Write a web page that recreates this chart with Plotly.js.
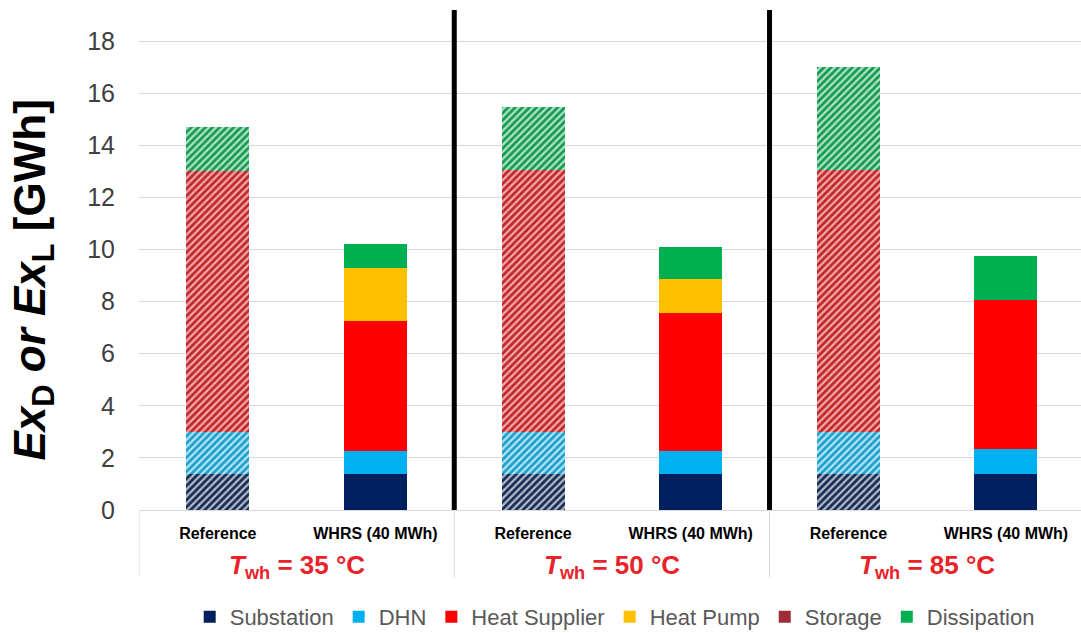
<!DOCTYPE html>
<html>
<head>
<meta charset="utf-8">
<script src="https://cdn.plot.ly/plotly-3.0.1.min.js"></script>
<style>html,body{margin:0;padding:0;background:#fff;overflow:hidden;}</style>
</head>
<body>
<div id="chart" style="width:1081px;height:633px;"></div>
<script>
// ---- data ----
var barLabels = ["Reference", "WHRS (40 MWh)", "Reference", "WHRS (40 MWh)", "Reference", "WHRS (40 MWh)"];
var isReference = [true, false, true, false, true, false];
var groupLabels = ["35", "50", "85"];
var substation   = [1.4, 1.4, 1.4, 1.4, 1.4, 1.4];
var dhn          = [1.6, 0.85, 1.6, 0.85, 1.6, 0.95];
var heatSupplier = [10.0, 5.0, 10.05, 5.3, 10.05, 5.7];
var heatPump     = [0, 2.05, 0, 1.3, 0, 0];
var storage      = [0, 0, 0, 0, 0, 0];
var dissipation  = [1.7, 0.9, 2.4, 1.25, 3.95, 1.7];
var yTicks = [0, 2, 4, 6, 8, 10, 12, 14, 16, 18];

var seriesNames = ["Substation", "DHN", "Heat Supplier", "Heat Pump", "Storage", "Dissipation"];
var seriesValues = [substation, dhn, heatSupplier, heatPump, storage, dissipation];
var solidColors = ["#002060", "#00b0f0", "#ff0000", "#ffc000", "#9e2a3a", "#00b050"];
var hatchFg = ["#172c52", "#1c9fcc", "#c0282c", "#d89e00", "#9e2a3a", "#169a52"];
var hatchBg = ["#b4bccb", "#b6e6f5", "#f2aaaa", "#ffe6a0", "#e0b0b8", "#b0e4c6"];

var font = "Arial, 'Liberation Sans', sans-serif";
var idx = barLabels.map(function (_, i) { return i; });

var traces = [];
seriesNames.forEach(function (name, s) {
  var vals = seriesValues[s];
  var xr = [], yr = [], xw = [], yw = [];
  idx.forEach(function (i) {
    if (isReference[i]) { xr.push(i); yr.push(vals[i]); }
    else { xw.push(i); yw.push(vals[i]); }
  });
  traces.push({
    type: "bar", name: name, x: xr, y: yr, legendgroup: name, showlegend: false,
    hoverinfo: "skip",
    marker: {
      color: hatchBg[s],
      line: { width: 0 },
      pattern: { shape: "/", fgcolor: hatchFg[s], bgcolor: hatchBg[s], size: 5, solidity: 0.55, fillmode: "replace" }
    }
  });
  traces.push({
    type: "bar", name: name, x: xw, y: yw, legendgroup: name, showlegend: true,
    marker: { color: solidColors[s], line: { width: 0 } }
  });
});

var shapes = [];
[1.5, 3.5].forEach(function (xv) {
  shapes.push({ type: "line", xref: "x", yref: "paper", x0: xv, x1: xv, y0: 0, y1: 1,
    line: { color: "#000000", width: 5 } });
});
[-0.5, 1.5, 3.5].forEach(function (xv) {
  shapes.push({ type: "line", xref: "x", yref: "paper", x0: xv, x1: xv, y0: 0, y1: -0.134,
    line: { color: "#d9d9d9", width: 1 }, layer: "below" });
});

var annotations = groupLabels.map(function (g, k) {
  return {
    xref: "x", yref: "paper", x: 2 * k + 0.5, y: -0.112, xanchor: "center", yanchor: "middle",
    showarrow: false,
    text: "<b><i>T</i><sub>wh</sub> = " + g + " °C</b>",
    font: { family: font, size: 26, color: "#e8232a" }
  };
});
annotations.push({
  xref: "paper", yref: "paper", x: -0.113, y: 0.46, xanchor: "center", yanchor: "middle",
  showarrow: false, textangle: -90,
  text: "<b><i>Ex</i><sub>D</sub><i> or </i><i>Ex</i><sub>L</sub> [GWh]</b>",
  font: { family: font, size: 44, color: "#000000" }
});

var layout = {
  width: 1081, height: 633,
  margin: { l: 139, r: 0, t: 10, b: 123, pad: 0, autoexpand: false },
  paper_bgcolor: "#ffffff", plot_bgcolor: "#ffffff",
  barmode: "stack", bargap: 0.6,
  font: { family: font },
  xaxis: {
    range: [-0.5, 5.476], tickmode: "array", tickvals: idx,
    ticktext: barLabels.map(function (t) { return "<b>" + t + "</b>"; }),
    tickfont: { family: font, size: 16, color: "#000000" },
    ticks: "outside", ticklen: 9, tickcolor: "rgba(0,0,0,0)",
    showgrid: false, zeroline: false, showline: false, fixedrange: true, automargin: false
  },
  yaxis: {
    range: [0, 19.19], tickmode: "array", tickvals: yTicks,
    tickfont: { family: font, size: 25, color: "#404040" },
    ticks: "outside", ticklen: 18, tickcolor: "rgba(0,0,0,0)",
    showgrid: true, gridcolor: "#d9d9d9", gridwidth: 1, automargin: false,
    zeroline: true, zerolinecolor: "#d9d9d9", zerolinewidth: 1, showline: false
  },
  legend: {
    orientation: "h", x: 0.505, xanchor: "center", y: -0.214, yanchor: "middle",
    font: { family: font, size: 22, color: "#595959" },
    traceorder: "normal", itemwidth: 30, tracegroupgap: 0
  },
  shapes: shapes,
  annotations: annotations,
  showlegend: true
};

Plotly.newPlot("chart", traces, layout, { displayModeBar: false, staticPlot: true });
</script>
</body>
</html>
